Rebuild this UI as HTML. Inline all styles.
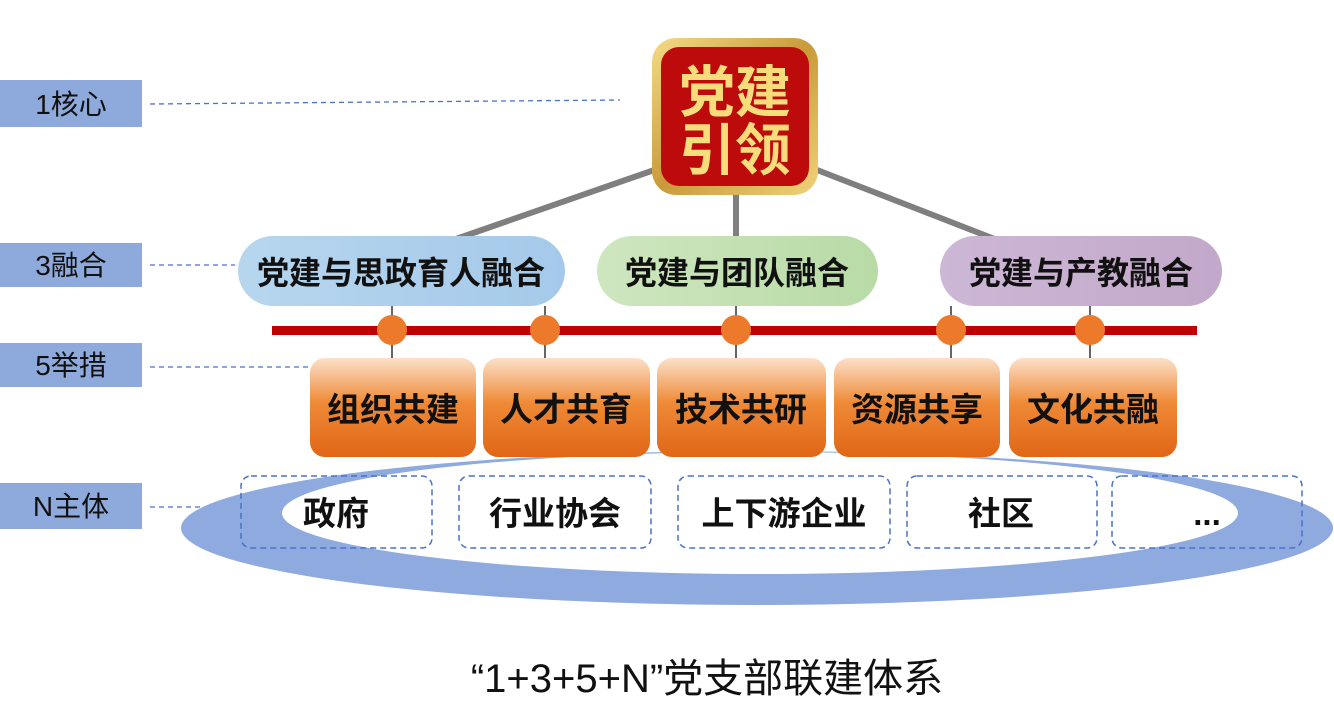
<!DOCTYPE html>
<html><head><meta charset="utf-8"><style>
html,body{margin:0;padding:0;background:#fff;}
svg{display:block;}
text{font-family:"Liberation Sans","Noto Sans CJK SC",sans-serif;}
</style></head><body>
<svg width="1334" height="705" viewBox="0 0 1334 705" xmlns="http://www.w3.org/2000/svg">
<defs>
<linearGradient id="gold" x1="0" y1="0" x2="1" y2="1"><stop offset="0" stop-color="#f3dc86"/><stop offset="0.5" stop-color="#c99a3a"/><stop offset="1" stop-color="#f0d27a"/></linearGradient>
<linearGradient id="org" x1="0" y1="0" x2="0" y2="1"><stop offset="0" stop-color="#fbe0c9"/><stop offset="0.45" stop-color="#ef8a37"/><stop offset="1" stop-color="#e06616"/></linearGradient>
<linearGradient id="blu" x1="0" y1="0" x2="1" y2="0"><stop offset="0" stop-color="#b7d6ee"/><stop offset="1" stop-color="#a5c9ea"/></linearGradient>
<linearGradient id="grn" x1="0" y1="0" x2="1" y2="0"><stop offset="0" stop-color="#cfe6c0"/><stop offset="1" stop-color="#b8dba6"/></linearGradient>
<linearGradient id="pur" x1="0" y1="0" x2="1" y2="0"><stop offset="0" stop-color="#cdb7d6"/><stop offset="1" stop-color="#c2a8c9"/></linearGradient>
</defs>
<g fill="#8eaadc">
<rect x="0" y="80" width="142" height="47"/>
<rect x="0" y="243" width="142" height="44"/>
<rect x="0" y="343" width="142" height="44"/>
<rect x="0" y="483" width="142" height="46"/>
</g>
<g font-size="28" fill="#111" text-anchor="middle">
<text x="71" y="114">1核心</text>
<text x="71" y="275">3融合</text>
<text x="71" y="375">5举措</text>
<text x="71" y="516">N主体</text>
</g>
<g stroke="#4a72c9" stroke-width="1.3" stroke-dasharray="5,4" fill="none">
<line x1="150" y1="104" x2="620" y2="100"/>
<line x1="150" y1="265" x2="235" y2="265"/>
<line x1="150" y1="367" x2="310" y2="367"/>
<line x1="150" y1="507" x2="240" y2="507"/>
</g>
<ellipse cx="757" cy="528" rx="576" ry="77" fill="#8eaadf"/>
<ellipse cx="760" cy="513" rx="478" ry="61" fill="#fff"/>
<g stroke="#7f7f7f" stroke-width="6">
<line x1="660" y1="168" x2="430" y2="248"/>
<line x1="736" y1="190" x2="736" y2="240"/>
<line x1="812" y1="168" x2="1010" y2="245"/>
</g>
<rect x="652" y="38" width="166" height="157" rx="24" fill="url(#gold)"/>
<rect x="661" y="47" width="148" height="139" rx="18" fill="#bd0a0a"/>
<g font-size="56" font-weight="bold" fill="#f7dc7c" text-anchor="middle">
<text x="735" y="112">党建</text>
<text x="735" y="170">引领</text>
</g>
<rect x="238" y="236" width="327" height="70" rx="35" fill="url(#blu)"/>
<rect x="597" y="236" width="281" height="70" rx="35" fill="url(#grn)"/>
<rect x="940" y="236" width="282" height="70" rx="35" fill="url(#pur)"/>
<g font-size="32" font-weight="bold" fill="#111" text-anchor="middle">
<text x="401" y="284">党建与思政育人融合</text>
<text x="737" y="284">党建与团队融合</text>
<text x="1081" y="284">党建与产教融合</text>
</g>
<g stroke="#666" stroke-width="2">
<line x1="392" y1="306" x2="392" y2="358"/><line x1="545" y1="306" x2="545" y2="358"/><line x1="736" y1="306" x2="736" y2="358"/><line x1="951" y1="306" x2="951" y2="358"/><line x1="1090" y1="306" x2="1090" y2="358"/>
</g>
<rect x="272" y="326" width="925" height="9" fill="#c00000"/>
<g fill="#ec7a2a">
<circle cx="392" cy="330" r="15"/><circle cx="545" cy="330" r="15"/><circle cx="736" cy="330" r="15"/><circle cx="951" cy="330" r="15"/><circle cx="1090" cy="330" r="15"/>
</g>
<g fill="url(#org)">
<rect x="310" y="358" width="166" height="99" rx="15"/>
<rect x="483" y="358" width="167" height="99" rx="15"/>
<rect x="657" y="358" width="169" height="99" rx="15"/>
<rect x="834" y="358" width="166" height="99" rx="15"/>
<rect x="1009" y="358" width="168" height="99" rx="15"/>
</g>
<g font-size="33" font-weight="bold" fill="#111" text-anchor="middle">
<text x="393" y="421">组织共建</text>
<text x="566" y="421">人才共育</text>
<text x="741" y="421">技术共研</text>
<text x="917" y="421">资源共享</text>
<text x="1093" y="421">文化共融</text>
</g>
<g fill="none" stroke="#4a72c9" stroke-width="1.5" stroke-dasharray="6,4">
<rect x="241" y="476" width="191" height="72" rx="10"/>
<rect x="459" y="476" width="192" height="72" rx="10"/>
<rect x="678" y="476" width="212" height="72" rx="10"/>
<rect x="907" y="476" width="190" height="72" rx="10"/>
<rect x="1112" y="476" width="190" height="72" rx="10"/>
</g>
<g font-size="33" font-weight="bold" fill="#111" text-anchor="middle">
<text x="336" y="525">政府</text>
<text x="555" y="525">行业协会</text>
<text x="784" y="525">上下游企业</text>
<text x="1001" y="525">社区</text>
<text x="1207" y="525">...</text>
</g>
<text x="707" y="692" font-size="40" fill="#111" text-anchor="middle">“1+3+5+N”党支部联建体系</text>
</svg>
</body></html>
